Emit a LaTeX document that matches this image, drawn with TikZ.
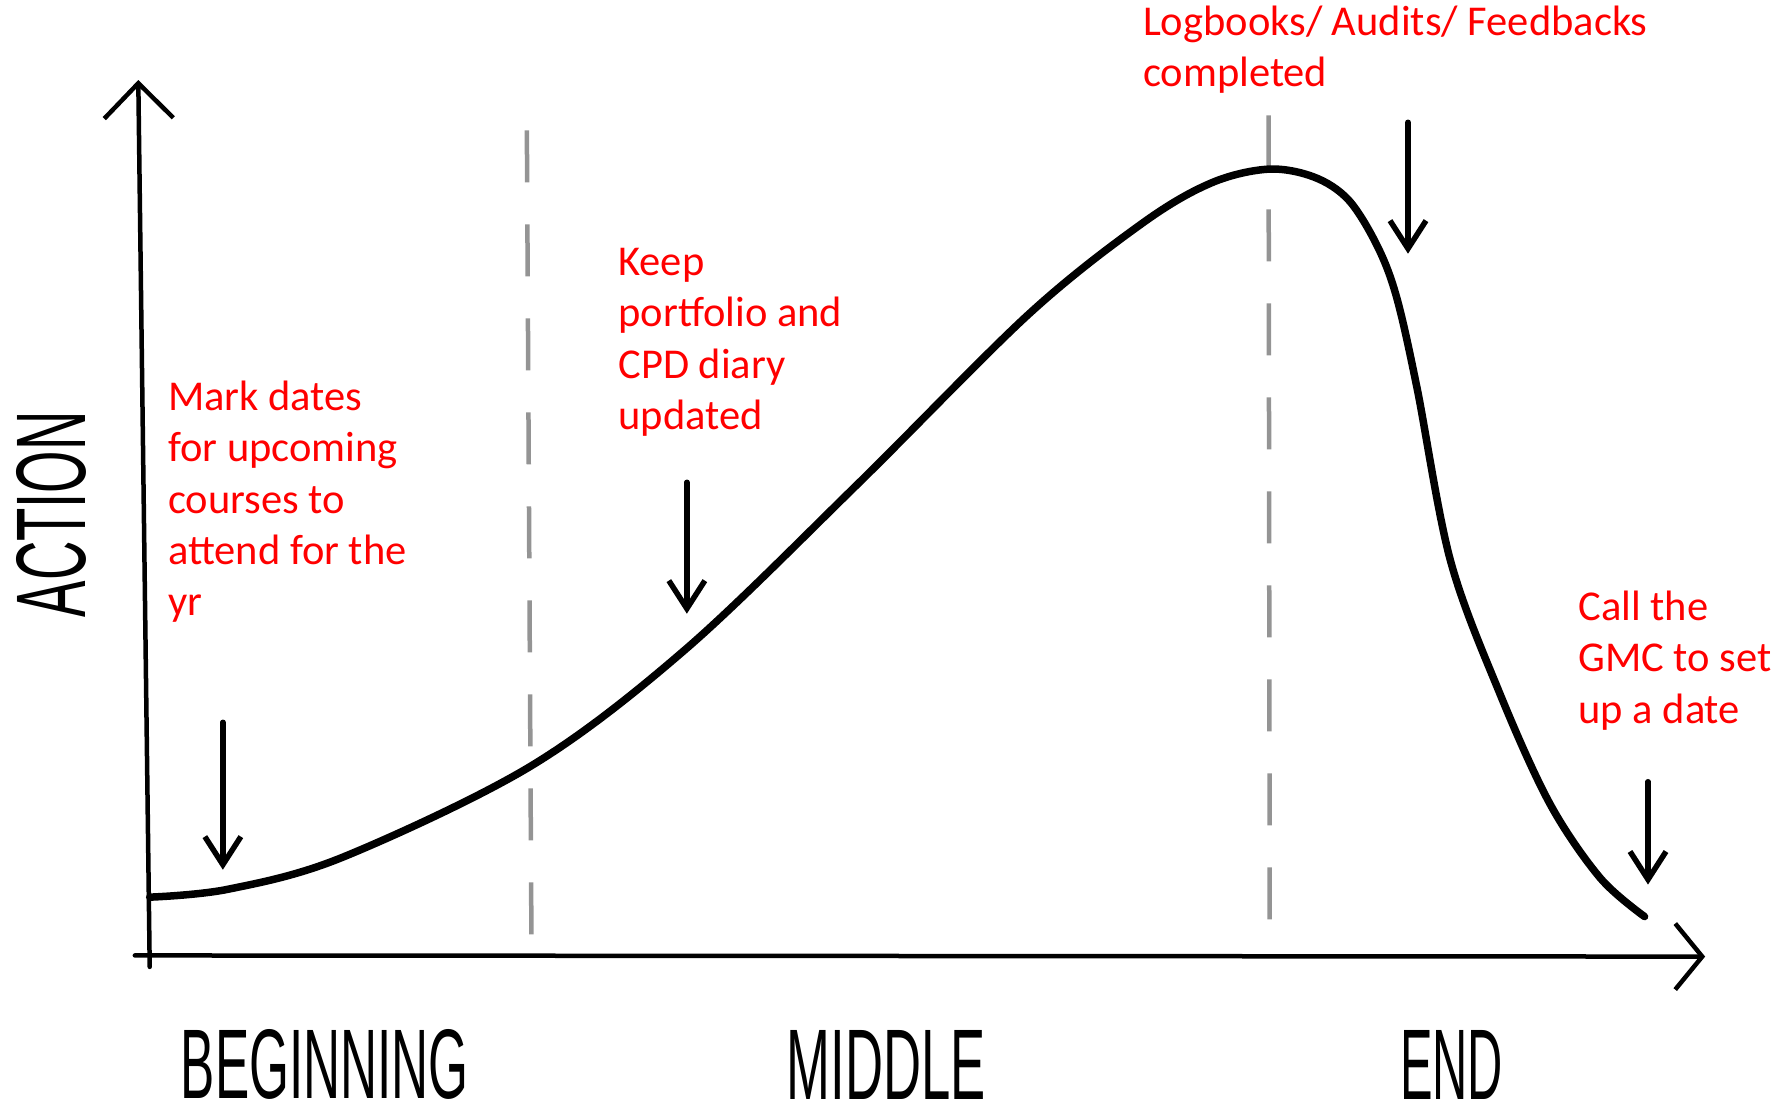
\documentclass[tikz,border=0pt]{standalone}
\usepackage{fontspec}
\setmainfont{Carlito}
\newfontfamily\handfont{Liberation Sans}
\usetikzlibrary{arrows.meta}
\newcommand\notefont{\fontsize{42.5}{51.4}\selectfont}
\begin{document}
\begin{tikzpicture}[x=1.142857pt,y=-1.142857pt,
  axis/.style={line width=4.5pt,line cap=round},
  curvestyle/.style={line width=7.5pt,line cap=round,line join=round},
  guide/.style={line width=4.5pt,color=black!42,dash pattern=on 52pt off 42pt},
  pointer/.style={line width=5.5pt,line cap=round,-{Straight Barb[length=28pt,width=36pt]}},
  note/.style={text=red,font=\notefont,align=left,inner sep=0pt,anchor=north west},
  hand/.style={inner sep=0pt}]
\useasboundingbox (0,0) rectangle (1568,970);
% guides
\coordinate (d1a) at (461,114); \coordinate (d1b) at (465,821);
\coordinate (d2a) at (1110,101); \coordinate (d2b) at (1111,817);
\draw[guide] (d1a) -- (d1b);
\draw[guide] (d2a) -- (d2b);
% axes
\coordinate (o) at (131,846); \coordinate (ytop) at (121,70);
\coordinate (xl) at (118,836); \coordinate (xr) at (1492,837);
\draw[axis,-{Straight Barb[length=35pt,width=69pt]}] (o) -- (ytop);
\draw[axis,-{Straight Barb[length=27pt,width=66pt]}] (xl) -- (xr);
% curve
\draw[curvestyle] plot[smooth,tension=0.55] coordinates {
 (131,785) (200,778) (300,750) (465,670) (600,568) (750,424) (900,275)
 (1000,195) (1060,160) (1110,148) (1150,155) (1180,175)
 (1205,215) (1222,260) (1240,340) (1269,490) (1312,606) (1356,703)
 (1400,768) (1439,802)};
% pointers
\coordinate (p1a) at (195,632); \coordinate (p1b) at (195,761);
\coordinate (p2a) at (601,422); \coordinate (p2b) at (601,537);
\coordinate (p3a) at (1232,107); \coordinate (p3b) at (1232,222);
\coordinate (p4a) at (1442,684); \coordinate (p4b) at (1442,774);
\draw[pointer] (p1a) -- (p1b);
\draw[pointer] (p2a) -- (p2b);
\draw[pointer] (p3a) -- (p3b);
\draw[pointer] (p4a) -- (p4b);
% notes
\node[note] (mark) at (147,333) {Mark dates\\for upcoming\\courses to\\attend for the\\yr};
\node[note] (keep) at (541,217) {Keep\\portfolio and\\CPD diary\\updated};
\node[note] (logs) at (1000,5) {Logbooks/ Audits/ Feedbacks\\completed};
\node[note] (call) at (1381,517) {Call the\\GMC to set\\up a date};
% hand labels
\node[hand,anchor=south west] (beg) at (158,962) {\resizebox{288pt}{69pt}{\handfont BEGINNING}};
\node[hand,anchor=south west] (mid) at (688,962) {\resizebox{199pt}{69pt}{\handfont MIDDLE}};
\node[hand,anchor=south west] (end) at (1225,962) {\resizebox{103pt}{69pt}{\handfont END}};
\node[hand,rotate=90] (act) at (45,450) {\resizebox{206pt}{69pt}{\handfont ACTION}};
\end{tikzpicture}
\end{document}
